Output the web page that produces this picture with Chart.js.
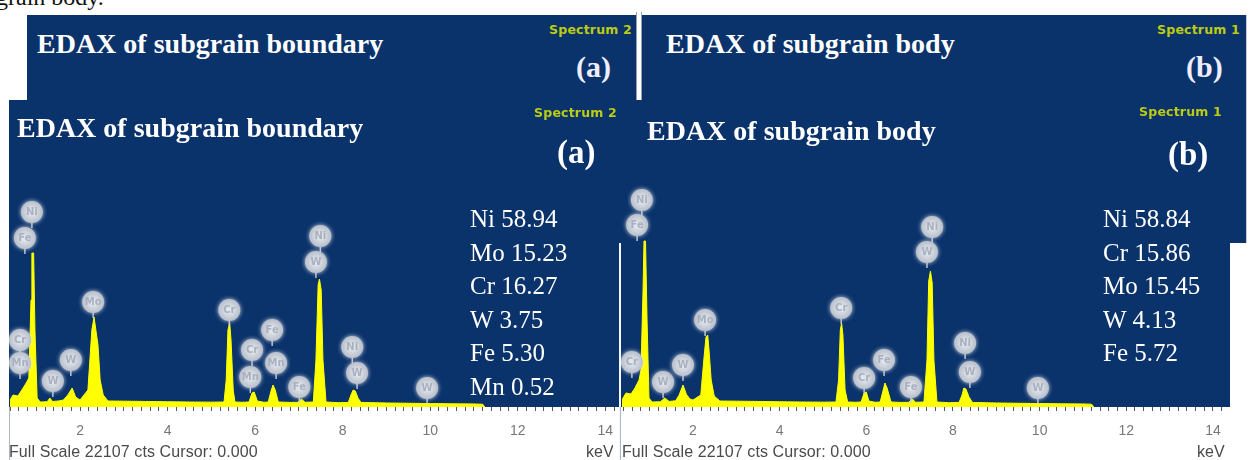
<!DOCTYPE html>
<html><head><meta charset="utf-8">
<script src="https://cdn.jsdelivr.net/npm/chart.js@4.4.1/dist/chart.umd.min.js"></script>
<style>
html,body{margin:0;padding:0;background:#fff;}
body{width:1249px;height:460px;overflow:hidden;position:relative;}
.abs{position:absolute;}
.blue{background:#0b336b;}
.title{position:absolute;font:bold 28px/28px "Liberation Serif",serif;color:#fff;white-space:nowrap;}
.tag{position:absolute;font:bold 33px/33px "Liberation Serif",serif;color:#fff;white-space:nowrap;}
.tagb{position:absolute;font:bold 30px/30px "Liberation Serif",serif;color:#eef;white-space:nowrap;}
.spec{position:absolute;font:bold 12.5px/14px "DejaVu Sans",sans-serif;color:#bccc12;letter-spacing:0.2px;white-space:nowrap;}
.comp{position:absolute;font:25px/33.5px "Liberation Serif",serif;color:#fff;white-space:nowrap;}
.fs{position:absolute;font:16px/16px "Liberation Sans",sans-serif;color:#4a4a4a;letter-spacing:0.1px;white-space:nowrap;}
canvas{position:absolute;}
</style></head><body>

<!-- clipped caption fragment -->
<div class="abs" style="left:-4px;top:-16px;font:24px/26px 'Liberation Serif',serif;color:#111;">grain body.</div>

<!-- back panels -->
<div class="abs blue" style="left:27px;top:15px;width:609px;height:90px;"></div>
<div class="abs" style="left:636px;top:12px;width:1px;height:90px;background:#9aa0aa;"></div>
<div class="abs" style="left:641px;top:12px;width:1px;height:90px;background:#9aa0aa;"></div>
<div class="abs blue" style="left:642px;top:15px;width:604px;height:228px;"></div>
<div class="abs" style="left:1246px;top:15px;width:1px;height:228px;background:#c8ccd4;"></div>

<div class="title" style="left:37px;top:30px;">EDAX of subgrain boundary</div>
<div class="spec" style="right:617px;top:23px;">Spectrum 2</div>
<div class="tagb" style="left:576px;top:52px;">(a)</div>
<div class="title" style="left:666px;top:30px;">EDAX of subgrain body</div>
<div class="spec" style="right:9px;top:23px;">Spectrum 1</div>
<div class="tagb" style="left:1186px;top:52px;">(b)</div>

<!-- front panels -->
<div class="abs blue" style="left:9px;top:100px;width:611px;height:307px;"></div>
<div class="abs blue" style="left:620px;top:100px;width:610px;height:307px;"></div>
<div class="abs" style="left:619px;top:243px;width:2px;height:217px;background:#f4f6fa;"></div>
<div class="abs" style="left:9px;top:407px;width:1px;height:53px;background:#b0b8c8;"></div>
<div class="abs" style="left:620px;top:407px;width:1px;height:53px;background:#b0b8c8;"></div>

<canvas id="ca" width="610" height="360" style="left:9px;top:100px;"></canvas>
<canvas id="cb" width="609" height="360" style="left:621px;top:100px;"></canvas>

<div class="title" style="left:17px;top:114px;">EDAX of subgrain boundary</div>
<div class="spec" style="right:632px;top:106px;">Spectrum 2</div>
<div class="tag" style="left:557px;top:136px;">(a)</div>
<div class="title" style="left:647px;top:117px;">EDAX of subgrain body</div>
<div class="spec" style="right:27px;top:105px;">Spectrum 1</div>
<div class="tag" style="left:1168px;top:138px;">(b)</div>

<div id="compA" class="comp" style="left:470px;top:202px;"></div>
<div id="compB" class="comp" style="left:1103px;top:202px;"></div>

<div class="fs" style="left:9px;top:444px;">Full Scale 22107 cts Cursor: 0.000</div>
<div class="fs" style="left:622px;top:444px;">Full Scale 22107 cts Cursor: 0.000</div>
<div class="abs" style="left:586px;top:444px;width:27px;height:16px;overflow:hidden;"><div class="fs" style="left:0;top:0;">keV</div></div>
<div class="abs" style="left:1197px;top:444px;width:32px;height:16px;overflow:hidden;"><div class="fs" style="left:0;top:0;">keV</div></div>

<script>
// ---- data (keV, counts) ----
const fullScale = 22107;
const keVTickLabels = [2, 4, 6, 8, 10, 12, 14];

const energyA = [0.40,0.47,0.58,0.67,0.77,0.83,0.88,0.90,0.94,0.97,
  1.02,1.09,1.25,1.31,1.37,1.50,1.62,1.72,1.82,1.90,
  2.00,2.18,2.27,2.32,2.41,2.46,2.53,2.64,3.0,3.5,
  4.0,4.5,5.0,5.29,5.34,5.38,5.42,5.45,5.50,5.54,
  5.70,5.86,5.93,5.98,6.05,6.20,6.30,6.37,6.41,6.46,
  6.53,6.80,6.98,7.06,7.14,7.33,7.39,7.44,7.47,7.51,
  7.55,7.62,7.90,8.13,8.19,8.24,8.29,8.35,8.42,9.0,
  9.5,10.0,10.5,11.0,11.2,11.25];
const countsA = [504,864,792,1224,1728,2088,7704,11088,11088,5544,
  648,360,380,648,400,430,500,864,1368,720,
  504,1224,5544,6480,4464,1944,864,432,420,400,
  380,360,350,360,1944,5544,6048,4824,1224,360,
  340,360,1008,1080,432,340,360,1224,1584,1224,
  360,330,340,576,340,360,3384,8784,9216,8424,
  3384,360,310,330,864,1224,1152,648,330,290,
  270,250,230,220,200,0];

const energyB = [0.36,0.455,0.57,0.66,0.755,0.80,0.847,0.87,0.905,0.94,
  0.985,1.055,1.25,1.35,1.45,1.60,1.68,1.77,1.85,1.93,
  2.00,2.18,2.25,2.30,2.34,2.37,2.42,2.49,2.62,3.0,
  3.5,4.0,4.5,5.0,5.30,5.36,5.40,5.43,5.46,5.51,
  5.57,5.75,5.88,5.95,6.00,6.06,6.20,6.32,6.39,6.43,
  6.48,6.57,6.80,6.98,7.06,7.14,7.33,7.40,7.44,7.48,
  7.52,7.56,7.63,7.90,8.14,8.21,8.25,8.30,8.37,8.45,
  9.0,9.5,10.0,10.5,11.0,11.2,11.25];
const countsB = [504,1008,936,1368,1944,2664,8352,11952,11952,6264,
  648,360,380,648,400,450,864,1584,900,576,
  500,864,3384,5040,5184,4104,1944,792,432,420,
  400,380,360,350,360,1944,5544,6048,5184,1224,
  360,340,360,1008,1080,432,340,360,1224,1728,
  1368,360,330,340,576,340,360,3384,9072,9792,
  8928,3384,360,310,330,864,1368,1296,720,330,
  290,270,250,230,220,200,0];

// peak identification markers (element, keV, counts level)
const peakElA  = ['Ni','Fe','Cr','Mn','W','W','Mo','Cr','Cr','Fe','Mn','Mn','Fe','Ni','W','Ni','W','W'];
const peakKevA = [0.90,0.74,0.63,0.63,1.38,1.79,2.30,5.41,5.93,6.39,6.48,5.89,7.01,7.49,7.39,8.22,8.33,9.93];
const peakCtsA = [14040,12168,4824,3168,1872,3384,7560,6984,4104,5544,3168,2160,1440,12312,10440,4320,2448,1368];

const peakElB  = ['Ni','Fe','Cr','W','W','Mo','Cr','Cr','Fe','Fe','Ni','W','Ni','W','W'];
const peakKevB = [0.82,0.71,0.59,1.31,1.77,2.28,5.42,5.95,6.41,7.03,7.52,7.40,8.28,8.39,9.96];
const peakCtsB = [14904,13104,3240,1800,3024,6264,7128,2088,3384,1440,12960,11160,4608,2520,1368];

// composition (wt%)
const compElA = ['Ni','Mo','Cr','W','Fe','Mn'];
const compWtA = ['58.94','15.23','16.27','3.75','5.30','0.52'];
const compElB = ['Ni','Cr','Mo','W','Fe'];
const compWtB = ['58.84','15.86','15.45','4.13','5.72'];

document.getElementById('compA').innerHTML = compElA.map((e,i)=>e+' '+compWtA[i]).join('<br>');
document.getElementById('compB').innerHTML = compElB.map((e,i)=>e+' '+compWtB[i]).join('<br>');

const peakLabelPlugin = {
  id: 'peakLabels',
  afterDatasetsDraw(chart, args, opts) {
    const {ctx, scales: {x, y}} = chart;
    ctx.save();
    opts.el.forEach((el, i) => {
      const px = x.getPixelForValue(opts.kev[i]);
      const py = y.getPixelForValue(opts.cts[i]);
      const r = 11;
      ctx.strokeStyle = 'rgba(205,210,220,0.9)';
      ctx.lineWidth = 1.5;
      ctx.beginPath(); ctx.moveTo(px, py + r - 1); ctx.lineTo(px, py + r + 5); ctx.stroke();
      ctx.shadowColor = 'rgba(225,230,238,0.9)';
      ctx.shadowBlur = 4;
      const g = ctx.createRadialGradient(px, py, 2, px, py, r);
      g.addColorStop(0, '#e2e6ec');
      g.addColorStop(1, '#b8bfcb');
      ctx.fillStyle = g;
      ctx.beginPath(); ctx.arc(px, py, r, 0, Math.PI * 2); ctx.fill();
      ctx.shadowBlur = 0;
      ctx.fillStyle = '#a9b1c0';
      ctx.font = 'bold 10px "DejaVu Sans"';
      ctx.textAlign = 'center';
      ctx.textBaseline = 'middle';
      ctx.fillText(el, px, py + 0.5);
    });
    ctx.restore();
  }
};

function makeChart(id, energy, counts, xmin, xmax, padL, padR, el, kev, cts) {
  const pts = energy.map((e, i) => ({x: e, y: counts[i]}));
  return new Chart(document.getElementById(id), {
    type: 'line',
    data: {datasets: [{
      data: pts, fill: 'origin', backgroundColor: '#ffff00', borderColor: '#ffff00',
      borderWidth: 1, pointRadius: 0, tension: 0
    }]},
    plugins: [peakLabelPlugin],
    options: {
      responsive: false, animation: false, devicePixelRatio: 1,
      layout: {padding: {left: padL, right: padR, top: 0, bottom: 0}},
      plugins: {legend: {display: false}, tooltip: {enabled: false},
        peakLabels: {el: el, kev: kev, cts: cts}},
      scales: {
        x: {
          type: 'linear', min: xmin, max: xmax,
          afterFit(s) { s.height = 53; s.paddingLeft = 0; s.paddingRight = 0; },
          border: {display: false},
          grid: {drawOnChartArea: false, drawTicks: true, tickLength: 4, color: '#555', tickWidth: 1},
          ticks: {
            stepSize: 0.2, autoSkip: false, maxRotation: 0, minRotation: 0, includeBounds: false,
            maxTicksLimit: 500, padding: 12, color: '#777',
            font: {family: 'Liberation Sans', size: 14},
            callback: (v) => {
              const r = Math.round(v);
              return (Math.abs(v - r) < 1e-6 && keVTickLabels.includes(r)) ? String(r) : '';
            }
          }
        },
        y: {display: false, min: 0, max: fullScale}
      }
    }
  });
}

makeChart('ca', energyA, countsA, 0.40, 14.2, 1, 5, peakElA, peakKevA, peakCtsA);
makeChart('cb', energyB, countsB, 0.362, 14.37, 1, 1, peakElB, peakKevB, peakCtsB);
</script>
</body></html>
